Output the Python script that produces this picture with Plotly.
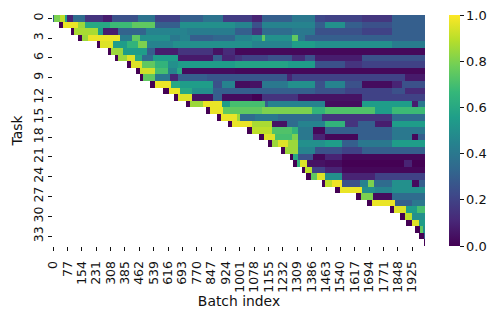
import numpy as np
import plotly.graph_objects as go

N_BATCHES = 1994
x_tick_values = list(range(0, 1926, 77))
y_tick_values = list(range(0, 34, 3))
colorbar_ticks = [0.0, 0.2, 0.4, 0.6, 0.8, 1.0]

task_starts = [1, 32, 96, 134, 236, 295, 332, 396, 445, 466, 520, 589, 648, 713, 820, 879, 938,
               1040, 1104, 1152, 1222, 1270, 1286, 1334, 1356, 1441, 1511, 1624, 1683, 1806,
               1860, 1892, 1940, 1962, 1988]

# each run: (end batch, accuracy value)
t00 = [(5,.3),(37,.8),(64,.9),(77,.55),(109,.1),(171,.35),(270,.15),(314,.08),(457,.25),(546,.38),(680,.2),(806,.3),(913,.38),(1065,.18),(1118,.1),(1279,.3),(1404,.4),(1458,.22),(1655,.2),(1815,.16),(1994,.3)]
t01 = [(55,.0),(135,.97),(171,.85),(305,.6),(421,.68),(546,.75),(680,.3),(975,.5),(1065,.45),(1118,.25),(1404,.45),(1458,.3),(1565,.5),(1655,.3),(1815,.25),(1994,.3)]
t02 = [(110,.0),(242,.87),(270,.55),(350,.08),(500,.32),(720,.45),(975,.42),(1065,.3),(1118,.15),(1279,.35),(1404,.4),(1655,.25),(1815,.2),(1994,.3)]
t03 = [(155,.0),(190,.85),(359,.97),(421,.42),(466,.75),(627,.5),(680,.4),(734,.45),(860,.3),(975,.33),(1065,.45),(1118,.5),(1136,.75),(1279,.5),(1315,.75),(1351,.4),(1994,.3)]
t04 = [(250,.0),(323,.95),(395,.55),(457,.65),(502,.8),(645,.45),(975,.5),(1065,.5),(1279,.45),(1404,.55),(1815,.5),(1994,.42)]
t05 = [(310,.0),(377,.85),(502,.55),(546,.3),(672,.08),(860,.15),(913,.05),(975,.12),(1994,.02)]
t06 = [(350,.0),(395,.85),(440,.95),(475,.6),(538,.35),(672,.55),(860,.07),(904,.3),(975,.1),(1011,.15),(1154,.2),(1279,.25),(1351,.12),(1404,.25),(1655,.08),(1994,.25)]
t07 = [(420,.0),(475,.95),(546,.75),(618,.65),(672,.5),(975,.55),(1261,.58),(1404,.55),(1565,.25),(1655,.15),(1994,.2)]
t08 = [(466,.0),(546,.93),(618,.7),(663,.45),(690,.6),(975,.03),(1994,.02)]
t09 = [(484,.0),(546,.75),(627,.4),(672,.1),(824,.3),(1255,.27),(1279,.1),(1887,.2),(1994,.07)]
t10 = [(546,.0),(635,.97),(680,.6),(860,.55),(904,.25),(975,.45),(1055,.03),(1118,.05),(1261,.4),(1404,.5),(1458,.25),(1565,.45),(1655,.25),(1815,.03),(1870,.1),(1994,.25)]
t11 = [(620,.0),(680,.97),(743,.6),(860,.5),(1279,.3),(1404,.3),(1565,.25),(1815,.2),(1887,.25),(1994,.12)]
t12 = [(672,.0),(743,.95),(860,.05),(904,.3),(1065,.03),(1118,.0),(1315,.15),(1404,.05),(1655,.05),(1994,.2)]
t13 = [(734,.0),(806,.85),(904,.97),(950,.55),(1136,.7),(1154,.3),(1458,.45),(1655,.03),(1922,.55),(1958,.08),(1994,.4)]
t14 = [(841,.0),(913,.97),(1118,.75),(1386,.8),(1458,.65),(1726,.72),(1815,.55),(1994,.68)]
t15 = [(900,.0),(985,.97),(1000,.85),(1083,.35),(1208,.4),(1440,.35),(1815,.15),(1994,.35)]
t16 = [(962,.0),(1065,.97),(1172,.87),(1252,.05),(1315,.35),(1458,.45),(1565,.65),(1637,.15),(1726,.3),(1815,.08),(1994,.55)]
t17 = [(1065,.0),(1172,.9),(1279,.72),(1315,.65),(1396,.4),(1458,.02),(1815,.3),(1994,.4)]
t18 = [(1130,.0),(1190,.95),(1279,.7),(1315,.8),(1396,.4),(1458,.1),(1637,.02),(1815,.3),(1922,.4),(1958,.02),(1994,.3)]
t19 = [(1172,.0),(1208,.85),(1261,.95),(1315,.85),(1458,.5),(1547,.55),(1637,.3),(1815,.4),(1994,.55)]
t20 = [(1243,.0),(1315,.85),(1404,.45),(1547,.25),(1655,.2),(1994,.3)]
t21 = [(1285,.0),(1315,.6),(1396,.25),(1458,.02),(1547,.1),(1994,.02)]
t22 = [(1310,.0),(1324,.65),(1360,.95),(1458,.05),(1547,.03),(1880,.0),(1922,.1),(1994,.0)]
t23 = [(1351,.0),(1386,.9),(1458,.2),(1547,.1),(1994,.02)]
t24 = [(1382,.0),(1413,.75),(1458,.95),(1547,.5),(1726,.1),(1994,.2)]
t25 = [(1458,.0),(1493,.9),(1551,.98),(1645,.25),(1690,.45),(1722,.8),(1815,.35),(1922,.5),(1962,.03),(1994,.3)]
t26 = [(1540,.0),(1654,.97),(1726,.5),(1815,.45),(1994,.5)]
t27 = [(1650,.0),(1717,.8),(1815,.03),(1994,.35)]
t28 = [(1712,.0),(1833,.97),(1922,.3),(1994,.4)]
t29 = [(1830,.0),(1890,.95),(1949,.55),(1994,.7)]
t30 = [(1885,.0),(1922,.9),(1994,.5)]
t31 = [(1925,.0),(1963,.95),(1994,.55)]
t32 = [(1965,.0),(1985,.75),(1994,.5)]
t33 = [(1990,.0),(1994,.3)]
t34 = [(1994,.0)]

task_runs = [t00,t01,t02,t03,t04,t05,t06,t07,t08,t09,t10,t11,t12,t13,t14,t15,t16,t17,
             t18,t19,t20,t21,t22,t23,t24,t25,t26,t27,t28,t29,t30,t31,t32,t33,t34]

z = np.full((len(task_runs), N_BATCHES), np.nan)
for row, (start, runs) in enumerate(zip(task_starts, task_runs)):
    pos = start
    for end, value in runs:
        z[row, pos:end] = value
        pos = end

FONT = "DejaVu Sans"
COL = "#111111"
TICK_SIZE = 12.5
TITLE_SIZE = 13.89
fig = go.Figure(go.Heatmap(
    z=z.tolist(), x0=0, dx=1, y0=0, dy=1,
    colorscale="Viridis", zmin=0, zmax=1, hoverongaps=False,
    colorbar=dict(
        x=1.0645, xanchor="left", y=0.5, yanchor="middle", len=1, lenmode="fraction",
        thickness=11, thicknessmode="pixels", outlinewidth=0, xpad=0, ypad=0,
        tickvals=colorbar_ticks, ticktext=[f"{t:.1f}" for t in colorbar_ticks],
        ticks="outside", ticklen=4, tickwidth=0.8, tickcolor=COL,
        tickfont=dict(family=FONT, size=13, color=COL),
    ),
))
fig.update_xaxes(
    range=[-0.5, N_BATCHES - 0.5], tickmode="array", tickvals=x_tick_values,
    ticktext=[str(v) for v in x_tick_values], tickangle=-90, ticks="outside",
    ticklen=4, tickwidth=0.8, tickcolor=COL, showgrid=False, zeroline=False, showline=False,
    ticklabelstandoff=5,
    tickfont=dict(family=FONT, size=TICK_SIZE, color=COL),
    title=dict(text="Batch index", font=dict(family=FONT, size=TITLE_SIZE, color=COL), standoff=3),
)
fig.update_yaxes(
    range=[34.5, -0.5], tickmode="array", tickvals=y_tick_values,
    ticktext=[str(v) for v in y_tick_values], tickangle=-90, ticks="outside",
    ticklen=4, tickwidth=0.8, tickcolor=COL, showgrid=False, zeroline=False, showline=False,
    tickfont=dict(family=FONT, size=TICK_SIZE, color=COL),
    title=dict(text="Task", font=dict(family=FONT, size=TITLE_SIZE, color=COL), standoff=5),
)
fig.update_layout(
    width=501, height=321, margin=dict(l=53, r=76, t=15, b=75, autoexpand=False),
    paper_bgcolor="white", plot_bgcolor="white",
)
fig.write_html("out.html", config=dict(displayModeBar=False),
               post_script="document.body.style.margin='0';document.body.style.overflow='hidden';")
